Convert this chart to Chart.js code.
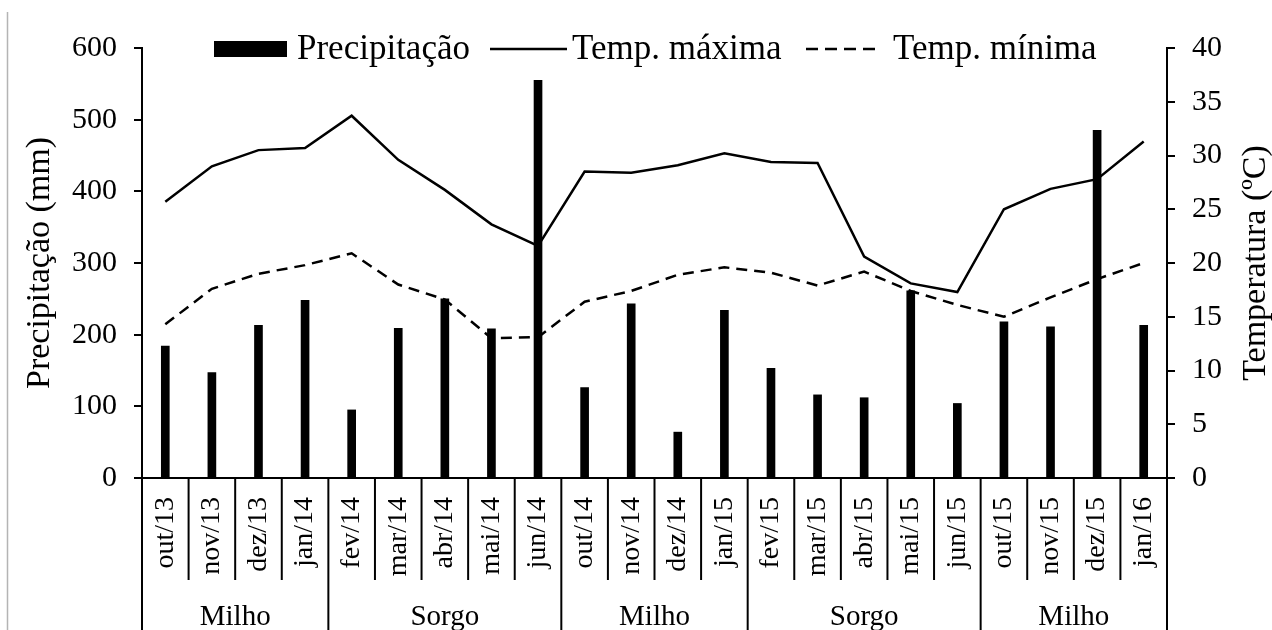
<!DOCTYPE html>
<html lang="pt">
<head>
<meta charset="utf-8">
<title>Precipitação e temperatura</title>
<script src="https://cdn.jsdelivr.net/npm/chart.js@4.4.0/dist/chart.umd.min.js"></script>
<style>
    html, body { margin: 0; padding: 0; background: #fff; }
    canvas { display: block; }
</style>
</head>
<body>
<canvas id="grafico" width="1272" height="630"></canvas>
<script>
// Dados
const meses = [
    'out/13', 'nov/13', 'dez/13', 'jan/14',
    'fev/14', 'mar/14', 'abr/14', 'mai/14', 'jun/14',
    'out/14', 'nov/14', 'dez/14', 'jan/15',
    'fev/15', 'mar/15', 'abr/15', 'mai/15', 'jun/15',
    'out/15', 'nov/15', 'dez/15', 'jan/16'
];
const culturas = ['Milho', 'Sorgo', 'Milho', 'Sorgo', 'Milho'];
const mesesPorCultura = [4, 5, 4, 5, 4];

const precipitacao = [
    184, 147, 213, 248,
    95, 209, 250, 208, 555,
    126, 243, 64, 234,
    153, 116, 112, 261, 104,
    218, 211, 485, 213
];
const tempMaxima = [
    25.7, 29.0, 30.5, 30.7,
    33.7, 29.6, 26.8, 23.6, 21.6,
    28.5, 28.4, 29.1, 30.2,
    29.4, 29.3, 20.6, 18.1, 17.3,
    25.0, 26.9, 27.8, 31.3
];
const tempMinima = [
    14.3, 17.6, 19.0, 19.8,
    20.9, 18.0, 16.6, 13.0, 13.1,
    16.4, 17.4, 18.9, 19.6,
    19.1, 17.9, 19.2, 17.4, 16.1,
    15.0, 16.8, 18.5, 20.0
];
const ticksPrecipitacao = [0, 100, 200, 300, 400, 500, 600];
const ticksTemperatura = [0, 5, 10, 15, 20, 25, 30, 35, 40];

const FONTE = '"Liberation Serif", "Times New Roman", serif';

/**
 * Desenha legenda, títulos dos eixos e os separadores do eixo x
 */
const decoracoes = {
    id: 'decoracoes',
    afterDraw(chart) {
        const ctx = chart.ctx;
        const area = chart.chartArea;
        const x = chart.scales.x;
        const base = area.bottom;

        ctx.save();

        // linha cinza da borda esquerda da figura
        ctx.strokeStyle = '#b4b4b4';
        ctx.lineWidth = 1.5;
        ctx.beginPath();
        ctx.moveTo(7.5, 12);
        ctx.lineTo(7.5, 630);
        ctx.stroke();

        // separadores entre meses e entre culturas
        ctx.strokeStyle = '#000';
        ctx.lineWidth = 2;
        const fimGrupo = [];
        let soma = 0;
        mesesPorCultura.forEach(n => { soma += n; fimGrupo.push(soma); });

        for (let i = 1; i < meses.length; i++) {
            const xs = (x.getPixelForValue(i - 1) + x.getPixelForValue(i)) / 2;
            const fundo = fimGrupo.includes(i) ? 630 : 580;
            ctx.beginPath();
            ctx.moveTo(xs, base);
            ctx.lineTo(xs, fundo);
            ctx.stroke();
        }
        // prolongamento dos eixos até o rodapé
        [area.left, area.right].forEach(xs => {
            ctx.beginPath();
            ctx.moveTo(xs, base);
            ctx.lineTo(xs, 630);
            ctx.stroke();
        });

        // nomes das culturas
        ctx.fillStyle = '#000';
        ctx.font = '29px ' + FONTE;
        ctx.textAlign = 'center';
        ctx.textBaseline = 'alphabetic';
        let inicio = 0;
        culturas.forEach((nome, k) => {
            const fim = inicio + mesesPorCultura[k] - 1;
            const xc = (x.getPixelForValue(inicio) + x.getPixelForValue(fim)) / 2;
            ctx.fillText(nome, xc, 625);
            inicio = fim + 1;
        });

        // títulos dos eixos (ambos lidos de baixo para cima)
        ctx.font = '34px ' + FONTE;
        ctx.textBaseline = 'middle';
        const meio = (area.top + area.bottom) / 2;
        [[40, 'Precipitação (mm)'], [1256, 'Temperatura (ºC)']].forEach(([xt, txt]) => {
            ctx.save();
            ctx.translate(xt, meio);
            ctx.rotate(-Math.PI / 2);
            ctx.fillText(txt, 0, 0);
            ctx.restore();
        });

        // legenda
        ctx.font = '35px ' + FONTE;
        ctx.textAlign = 'left';
        ctx.textBaseline = 'alphabetic';
        ctx.fillRect(214, 41, 73, 16);
        ctx.fillText('Precipitação', 297, 59);

        ctx.lineWidth = 2.5;
        ctx.beginPath();
        ctx.moveTo(490, 49);
        ctx.lineTo(567, 49);
        ctx.stroke();
        ctx.fillText('Temp. máxima', 572, 59);

        ctx.setLineDash([12, 7]);
        ctx.beginPath();
        ctx.moveTo(806, 49);
        ctx.lineTo(878, 49);
        ctx.stroke();
        ctx.setLineDash([]);
        ctx.fillText('Temp. mínima', 893, 59);

        ctx.restore();
    }
};

const eixoY = (min, max, passo, largura) => ({
    min: min,
    max: max,
    afterBuildTicks: s => {
        const lista = max === 600 ? ticksPrecipitacao : ticksTemperatura;
        s.ticks = lista.map(v => ({ value: v }));
    },
    afterFit: s => { s.width = largura; },
    border: { display: true, color: '#000', width: 2 },
    grid: {
        drawOnChartArea: false,
        drawTicks: true,
        tickLength: 8,
        color: '#000',
        lineWidth: 2
    },
    ticks: {
        stepSize: passo,
        padding: 17,
        color: '#000',
        font: { family: FONTE, size: 30 }
    },
    title: { display: false }
});

new Chart(document.getElementById('grafico'), {
    type: 'bar',
    data: {
        labels: meses,
        datasets: [
            {
                type: 'line',
                label: 'Temp. máxima',
                data: tempMaxima,
                yAxisID: 'y1',
                borderColor: '#000',
                borderWidth: 2.5,
                pointRadius: 0,
                fill: false,
                tension: 0,
                order: 1
            },
            {
                type: 'line',
                label: 'Temp. mínima',
                data: tempMinima,
                yAxisID: 'y1',
                borderColor: '#000',
                borderWidth: 2.5,
                borderDash: [11, 7],
                pointRadius: 0,
                fill: false,
                tension: 0,
                order: 2
            },
            {
                type: 'bar',
                label: 'Precipitação',
                data: precipitacao,
                yAxisID: 'y',
                backgroundColor: '#000',
                borderWidth: 0,
                barThickness: 8,
                order: 3
            }
        ]
    },
    options: {
        responsive: false,
        devicePixelRatio: 1,
        animation: false,
        layout: { padding: { top: 48, left: 0, right: 0, bottom: 0 } },
        plugins: {
            legend: { display: false },
            tooltip: { enabled: false }
        },
        scales: {
            x: {
                afterFit: s => { s.height = 152; },
                border: { display: true, color: '#000', width: 2 },
                grid: { display: false, drawTicks: false },
                ticks: {
                    autoSkip: false,
                    minRotation: 90,
                    maxRotation: 90,
                    padding: 19,
                    color: '#000',
                    font: { family: FONTE, size: 28 }
                }
            },
            y: Object.assign({ position: 'left' }, eixoY(0, 600, 100, 142)),
            y1: Object.assign({ position: 'right' }, eixoY(0, 40, 5, 105))
        }
    },
    plugins: [decoracoes]
});
</script>
</body>
</html>
